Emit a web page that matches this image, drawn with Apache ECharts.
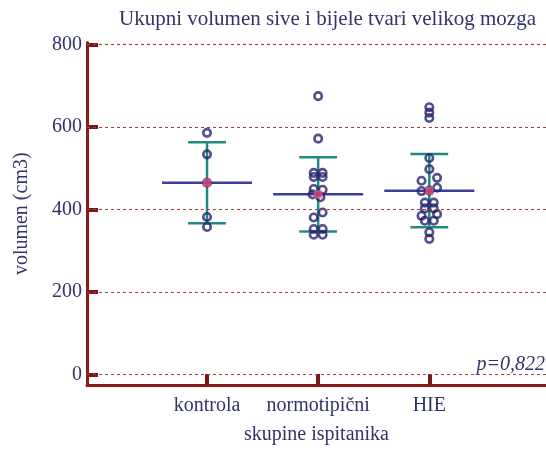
<!DOCTYPE html>
<html>
<head>
<meta charset="utf-8">
<script src="https://cdn.jsdelivr.net/npm/echarts@6/dist/echarts.min.js"></script>
<style>
  html, body { margin: 0; padding: 0; background: #fff; }
  #chart { width: 546px; height: 450px; }
</style>
</head>
<body>
<div id="chart"></div>
<script>
var groups = ['kontrola', 'normotipični', 'HIE'];
var yTicks = [0, 200, 400, 600, 800];

// mean and SD as drawn
var means = [465, 437, 446];
var sds = [98, 90, 89];

// individual points: value and small horizontal offset (category units)
var kontrolaVals = [586, 534, 465, 382, 358];
var kontrolaOff  = [0, 0, 0, 0, 0];
var normoVals = [675, 572, 489, 489, 479, 479, 450, 448, 437, 430, 393, 381, 353, 353, 339, 339];
var normoOff  = [0, 0, -0.04, 0.04, -0.04, 0.04, -0.04, 0.04, -0.05, 0.02, 0.04, -0.04, -0.04, 0.04, -0.04, 0.04];
var hieVals = [648, 635, 622, 525, 498, 477, 470, 453, 445, 446, 417, 417, 403, 403, 389, 385, 373, 373, 345, 329];
var hieOff  = [0, 0, 0, 0, 0, 0.07, -0.07, 0.07, -0.07, 0, -0.04, 0.04, -0.04, 0.04, 0.07, -0.07, -0.04, 0.04, 0, 0];

var textColor = '#33336b';
var axisColor = '#8b1a1a';
var font = '"Liberation Serif", "Times New Roman", serif';

function pts(vals, offs, pos) {
  var out = [];
  for (var i = 0; i < vals.length; i++) {
    out.push([pos + offs[i], vals[i]]);
  }
  return out;
}

var points = []
  .concat(pts(kontrolaVals, kontrolaOff, 1))
  .concat(pts(normoVals, normoOff, 2))
  .concat(pts(hieVals, hieOff, 3));

var summary = [];
for (var i = 0; i < groups.length; i++) {
  summary.push([i + 1, means[i], sds[i]]);
}

var option = {
  animation: false,
  textStyle: { fontFamily: font },
  title: {
    text: 'Ukupni volumen sive i bijele tvari velikog mozga',
    left: 114,
    top: 4,
    textStyle: { fontFamily: font, fontWeight: 'normal', fontSize: 21, color: textColor }
  },
  graphic: [{
    type: 'text',
    right: 1,
    top: 355,
    style: { text: 'p=0,822', font: 'italic 20px ' + font, fill: textColor }
  }],
  grid: { left: 87, right: 0, top: 42.5, bottom: 61 },
  xAxis: {
    type: 'value',
    min: -0.08,
    max: 4.05,
    name: 'skupine ispitanika',
    nameLocation: 'middle',
    nameGap: 40,
    nameTextStyle: { fontFamily: font, fontSize: 20, color: textColor },
    axisLine: { onZero: false, lineStyle: { color: axisColor, width: 3 } },
    axisTick: { inside: true, length: 11, customValues: [1, 2, 3], lineStyle: { color: '#7b1616', width: 4 } },
    axisLabel: {
      customValues: [1, 2, 3],
      margin: 11,
      fontFamily: font, fontSize: 20, color: textColor,
      formatter: function (v) { return groups[Math.round(v) - 1]; }
    },
    splitLine: { show: false }
  },
  yAxis: {
    type: 'value',
    min: -25,
    max: 805,
    name: 'volumen (cm3)',
    nameLocation: 'middle',
    nameGap: 55,
    nameTextStyle: { fontFamily: font, fontSize: 20, color: textColor },
    axisLine: { show: true, onZero: false, lineStyle: { color: axisColor, width: 3 } },
    axisTick: { show: true, inside: true, length: 11, customValues: yTicks, lineStyle: { color: '#7b1616', width: 4 } },
    axisLabel: { customValues: yTicks, margin: 5, fontFamily: font, fontSize: 20, color: textColor },
    splitLine: { show: false }
  },
  series: [
    {
      type: 'line',
      data: [],
      markLine: {
        silent: true,
        symbol: 'none',
        label: { show: false },
        lineStyle: { color: '#a0403a', type: [3, 3], width: 1.2 },
        data: yTicks.map(function (v) { return { yAxis: v }; })
      }
    },
    {
      type: 'custom',
      z: 3,
      data: summary,
      renderItem: function (params, api) {
        var x = api.value(0), m = api.value(1), s = api.value(2);
        var top = api.coord([x, m + s]);
        var bot = api.coord([x, m - s]);
        var capL = api.coord([x - 0.17, 0])[0];
        var capR = api.coord([x + 0.17, 0])[0];
        var mL = api.coord([x - 0.405, m]);
        var mR = api.coord([x + 0.405, m]);
        var teal = { stroke: '#1f8a84', lineWidth: 2.5 };
        return {
          type: 'group',
          children: [
            { type: 'line', shape: { x1: top[0], y1: top[1], x2: bot[0], y2: bot[1] }, style: teal },
            { type: 'line', shape: { x1: capL, y1: top[1], x2: capR, y2: top[1] }, style: teal },
            { type: 'line', shape: { x1: capL, y1: bot[1], x2: capR, y2: bot[1] }, style: teal },
            { type: 'line', shape: { x1: mL[0], y1: mL[1], x2: mR[0], y2: mR[1] }, style: { stroke: '#3c3ca0', lineWidth: 2.5 } }
          ]
        };
      }
    },
    {
      type: 'scatter',
      z: 4,
      data: points,
      symbol: 'circle',
      symbolSize: 7.5,
      itemStyle: { color: 'rgba(255,255,255,0)', borderColor: '#25256e', borderWidth: 2.6 }
    },
    {
      type: 'scatter',
      z: 5,
      data: summary.map(function (d) { return [d[0], d[1]]; }),
      symbol: 'rect',
      symbolSize: 7,
      itemStyle: { color: '#e0406a', borderColor: 'rgba(230,120,150,0.6)', borderWidth: 1.5 }
    }
  ]
};

var chart = echarts.init(document.getElementById('chart'));
chart.setOption(option);
</script>
</body>
</html>
